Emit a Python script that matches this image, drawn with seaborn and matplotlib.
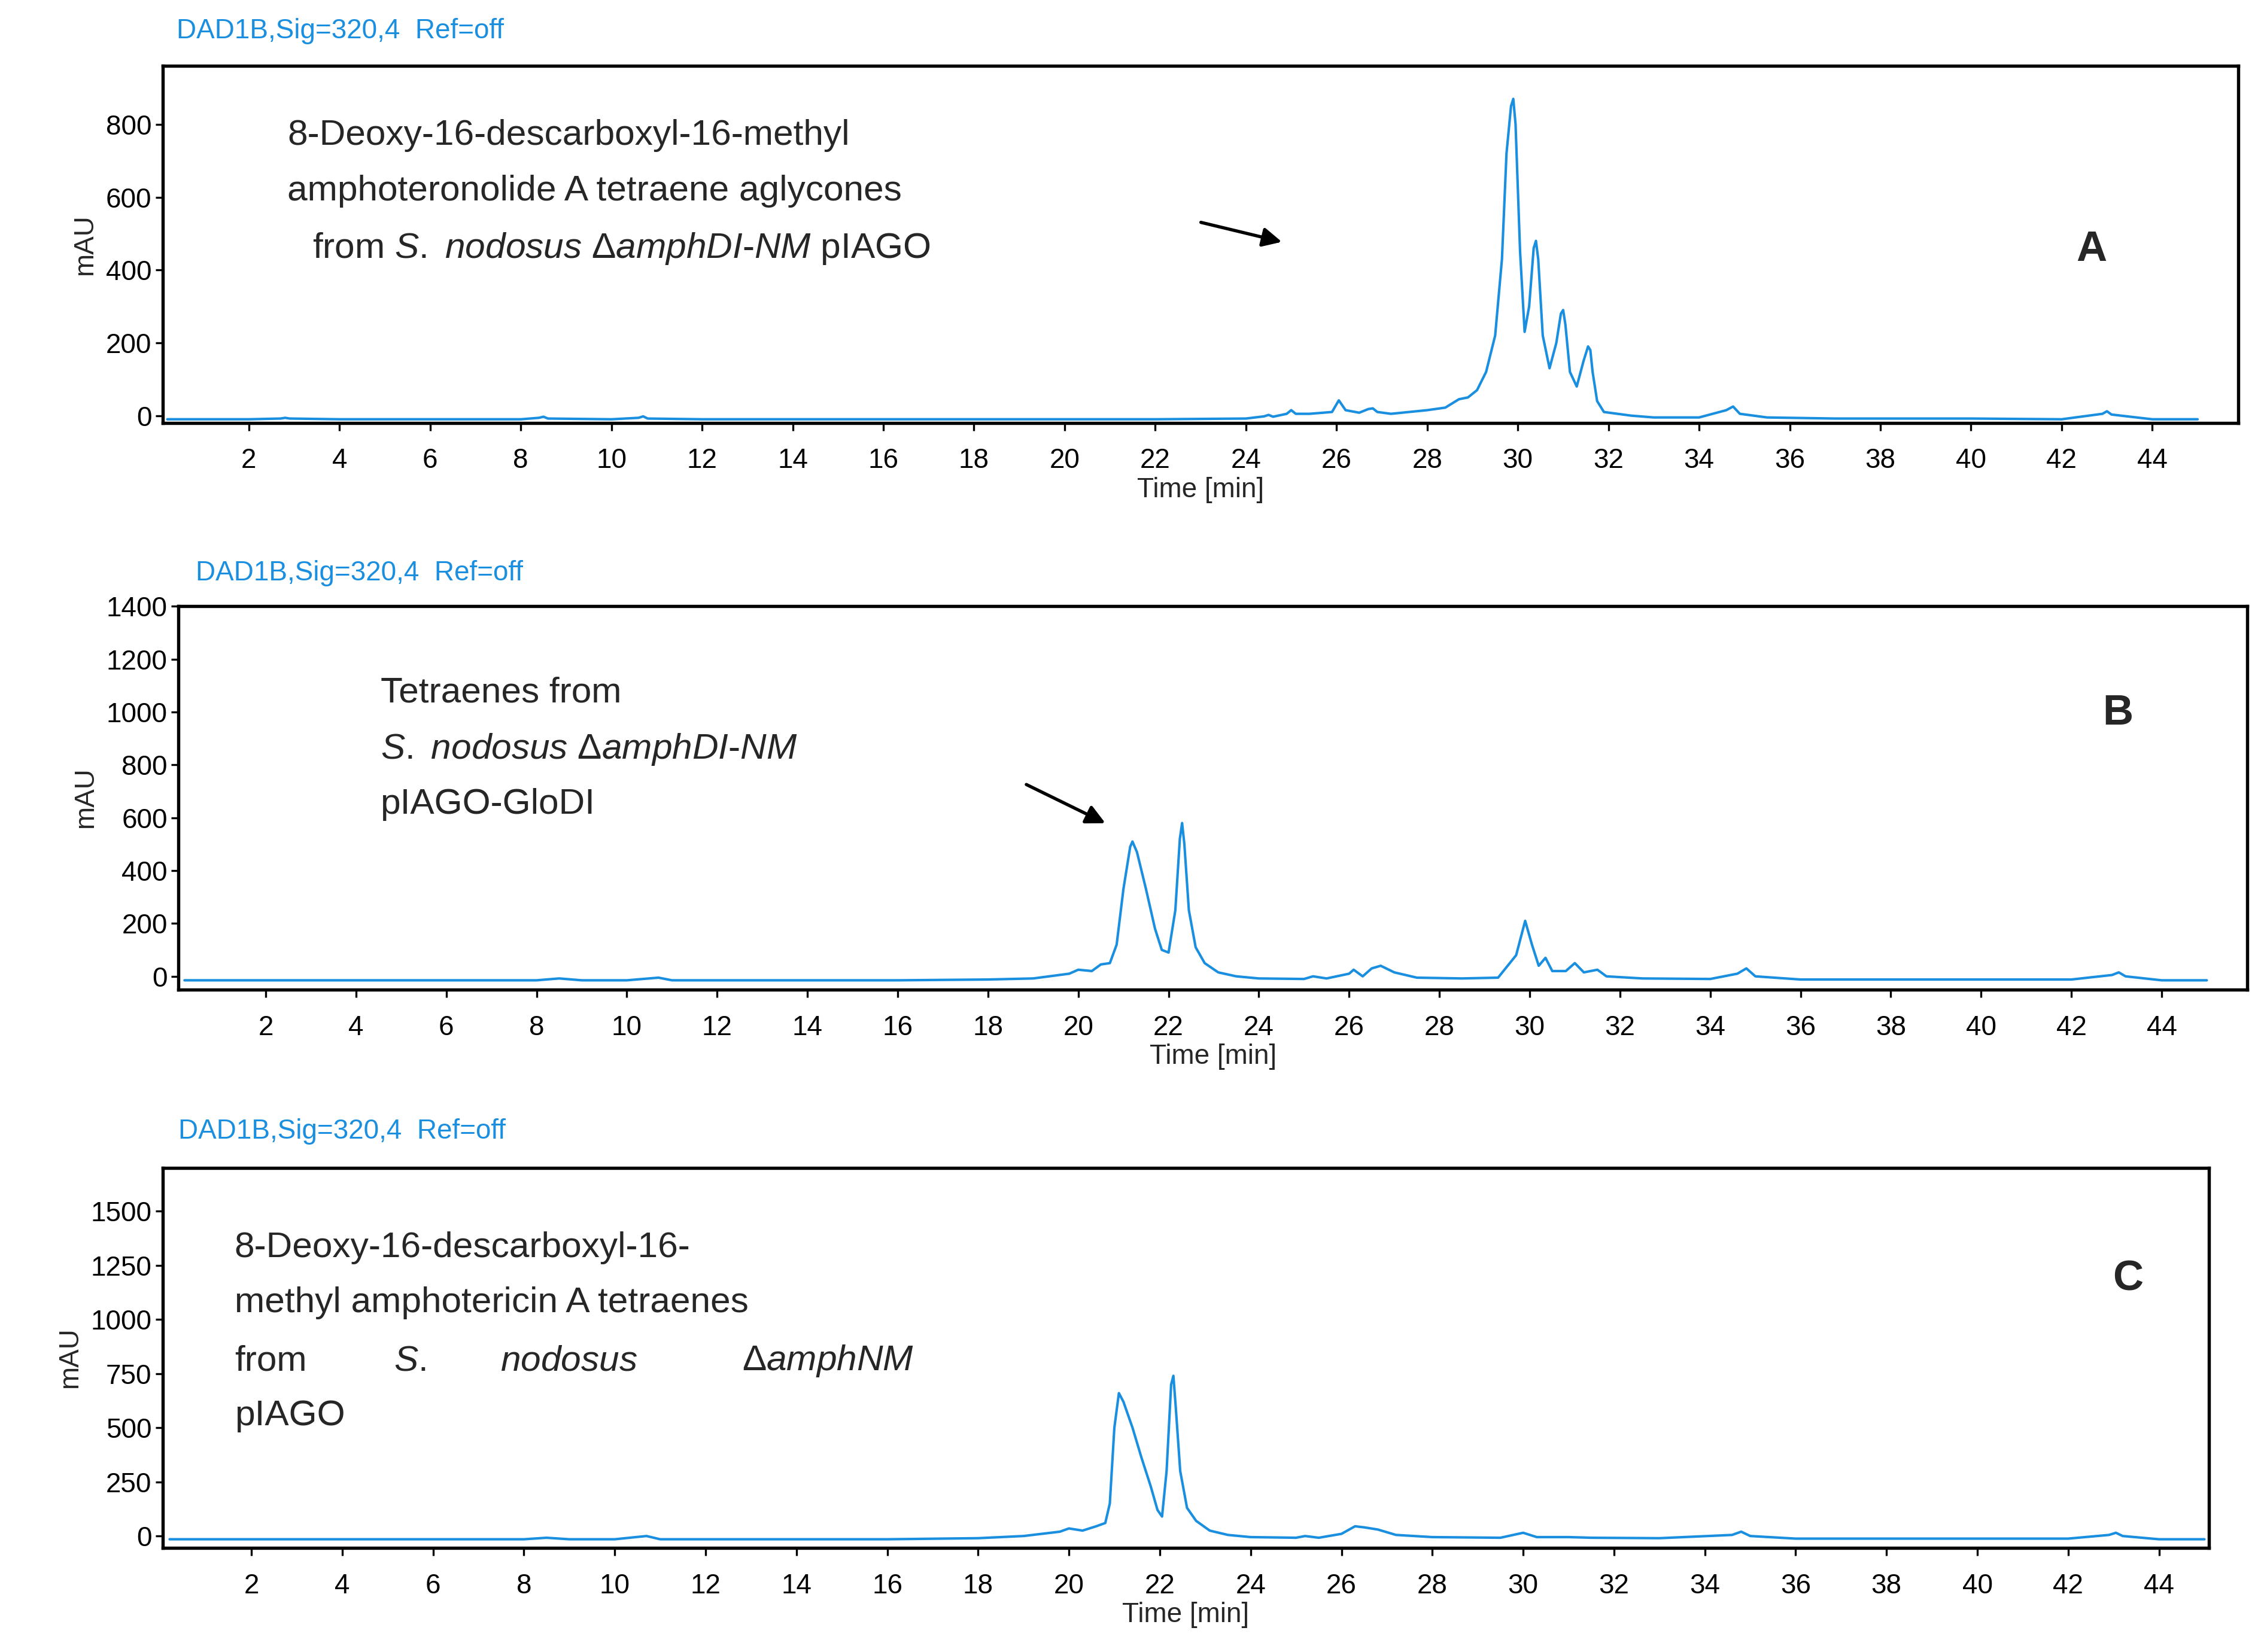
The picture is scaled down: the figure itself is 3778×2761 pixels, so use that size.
import numpy as np
import matplotlib
matplotlib.use("Agg")
import matplotlib.pyplot as plt
import seaborn as sns

# chromatogram traces: (time [min], signal [mAU])
A_POINTS = [(0.2, -10), (2, -10), (2.7, -8), (2.8, -6), (2.9, -8), (4, -10), (6, -10), (8, -10),
            (8.4, -6), (8.5, -3), (8.6, -8), (10, -10), (10.6, -6), (10.7, -2), (10.8, -8), (12, -10),
            (14, -10), (16, -10), (18, -10), (20, -10), (22, -10), (23, -9), (24, -8), (24.4, -2),
            (24.5, 2), (24.6, -3), (24.9, 5), (25.0, 15), (25.1, 5), (25.4, 5), (25.9, 10),
            (26.05, 42), (26.2, 15), (26.5, 8), (26.7, 18), (26.8, 20), (26.9, 10), (27.2, 5),
            (27.6, 10), (28.0, 15), (28.4, 22), (28.7, 45), (28.9, 50), (29.1, 70), (29.3, 120),
            (29.5, 220), (29.65, 430), (29.75, 720), (29.85, 850), (29.9, 870), (29.95, 800),
            (30.05, 450), (30.15, 230), (30.25, 300), (30.35, 460), (30.4, 480), (30.45, 430),
            (30.55, 220), (30.7, 130), (30.85, 200), (30.95, 280), (31.0, 290), (31.05, 250),
            (31.15, 120), (31.3, 80), (31.45, 150), (31.55, 190), (31.6, 180), (31.65, 120),
            (31.75, 40), (31.9, 10), (32.2, 5), (32.5, 0), (33, -5), (34, -5), (34.6, 15),
            (34.75, 25), (34.9, 5), (35.5, -5), (37, -8), (38, -8), (40, -8), (42, -10),
            (42.9, 5), (43.0, 12), (43.1, 3), (44, -10), (45, -10)]

B_POINTS = [(0.2, -15), (2, -15), (4, -15), (6, -15), (8, -15), (8.5, -8), (9, -15), (10, -15),
            (10.7, -5), (11, -15), (12, -15), (14, -15), (16, -15), (18, -12), (19, -8), (19.8, 10),
            (20.0, 25), (20.3, 20), (20.5, 45), (20.7, 50), (20.85, 120), (21.0, 330), (21.15, 490),
            (21.2, 510), (21.3, 470), (21.5, 330), (21.7, 180), (21.85, 100), (22.0, 90),
            (22.15, 250), (22.25, 520), (22.3, 580), (22.35, 500), (22.45, 250), (22.6, 110),
            (22.8, 50), (23.1, 15), (23.5, 0), (24, -8), (25, -10), (25.2, 0), (25.5, -8),
            (26.0, 10), (26.1, 25), (26.3, 0), (26.5, 30), (26.7, 40), (27.0, 15), (27.5, -5),
            (28.5, -8), (29.3, -5), (29.7, 80), (29.9, 210), (30.05, 120), (30.2, 40), (30.35, 70),
            (30.5, 20), (30.8, 20), (31.0, 50), (31.2, 15), (31.5, 25), (31.7, 0), (32.5, -8),
            (34, -10), (34.6, 10), (34.8, 30), (35.0, 0), (36, -12), (38, -12), (40, -12),
            (42, -12), (42.9, 5), (43.05, 15), (43.2, 0), (44, -15), (45, -15)]

C_POINTS = [(0.2, -15), (2, -15), (4, -15), (6, -15), (8, -15), (8.5, -8), (9, -15), (10, -15),
            (10.7, 0), (11, -15), (12, -15), (14, -15), (16, -15), (18, -10), (19, 0), (19.8, 20),
            (20.0, 35), (20.3, 25), (20.6, 45), (20.8, 60), (20.9, 150), (21.0, 500), (21.1, 660),
            (21.2, 620), (21.4, 500), (21.6, 360), (21.8, 230), (21.95, 120), (22.05, 90),
            (22.15, 300), (22.25, 700), (22.3, 740), (22.35, 600), (22.45, 300), (22.6, 130),
            (22.8, 70), (23.1, 25), (23.5, 5), (24, -5), (25, -8), (25.2, 0), (25.5, -8),
            (26.0, 10), (26.3, 45), (26.5, 40), (26.8, 30), (27.2, 5), (28, -5), (29.5, -8),
            (30.0, 15), (30.3, -5), (31, -5), (31.5, -8), (33, -10), (34.6, 5), (34.8, 20),
            (35.0, 0), (36, -12), (38, -12), (40, -12), (42, -12), (42.9, 5), (43.05, 15),
            (43.2, 0), (44, -15), (45, -15)]

X_TICKS = list(range(2, 46, 2))
A_YTICKS = [0, 200, 400, 600, 800]
B_YTICKS = [0, 200, 400, 600, 800, 1000, 1200, 1400]
C_YTICKS = [0, 250, 500, 750, 1000, 1250, 1500]
HEADER = "DAD1B,Sig=320,4  Ref=off"

BLUE = "#1b8fdf"

sns.set_theme(style="white")
plt.rcParams["font.family"] = ["Liberation Sans", "DejaVu Sans"]
plt.rcParams["mathtext.fontset"] = "custom"
plt.rcParams["mathtext.rm"] = "Liberation Sans"
plt.rcParams["mathtext.it"] = "Liberation Sans:italic"

fig = plt.figure(figsize=(3778 / 300, 2761 / 300), dpi=300)


def panel(rect, points, xlim, ylim, yticks):
    ax = fig.add_axes(rect)
    t, v = zip(*points)
    sns.lineplot(x=np.array(t), y=np.array(v), ax=ax, color=BLUE, linewidth=1.0,
                 estimator=None, sort=False)
    ax.set_xlim(*xlim)
    ax.set_ylim(*ylim)
    ax.set_xticks(X_TICKS)
    ax.set_yticks(yticks)
    for s in ax.spines.values():
        s.set_color("black")
        s.set_linewidth(1.3)
    ax.tick_params(axis="both", direction="out", length=3, width=0.8, colors="black",
                   labelsize=11, pad=1.5, bottom=True, left=True)
    ax.tick_params(axis="x", pad=7)
    ax.set_xlabel("Time [min]", fontsize=11, labelpad=1)
    ax.set_ylabel("mAU", fontsize=11, labelpad=3)
    return ax


axA = panel([0.072, 0.744, 0.918, 0.216], A_POINTS, (0.1, 45.9), (-20, 960), A_YTICKS)
axB = panel([0.079, 0.401, 0.915, 0.232], B_POINTS, (0.07, 45.9), (-50, 1400), B_YTICKS)
axC = panel([0.072, 0.063, 0.905, 0.230], C_POINTS, (0.05, 45.1), (-55, 1700), C_YTICKS)

for x, y in [(0.078, 0.981), (0.0865, 0.653), (0.079, 0.315)]:
    fig.text(x, y, HEADER, color=BLUE, fontsize=11, va="center")

fs = 14.5
# panel A
axA.text(0.06, 0.805, "8-Deoxy-16-descarboxyl-16-methyl", transform=axA.transAxes, fontsize=fs, va="center")
axA.text(0.06, 0.65, "amphoteronolide A tetraene aglycones", transform=axA.transAxes, fontsize=fs, va="center")
axA.text(0.072, 0.488, r"from $S.\ nodosus\ \Delta amphDI$-$NM$ pIAGO", transform=axA.transAxes,
         fontsize=fs, va="center")
axA.annotate("", xy=(24.9, 474), xytext=(22.9, 534),
             arrowprops=dict(arrowstyle="-|>", color="black", lw=1.3, mutation_scale=16))
axA.text(0.922, 0.484, "A", transform=axA.transAxes, fontsize=17, fontweight="bold", va="center")

# panel B
axB.text(0.0975, 0.774, "Tetraenes from", transform=axB.transAxes, fontsize=fs, va="center")
axB.text(0.0975, 0.626, r"$S.\ nodosus\ \Delta amphDI$-$NM$", transform=axB.transAxes, fontsize=fs, va="center")
axB.text(0.0975, 0.483, "pIAGO-GloDI", transform=axB.transAxes, fontsize=fs, va="center")
axB.annotate("", xy=(20.7, 571), xytext=(18.75, 734),
             arrowprops=dict(arrowstyle="-|>", color="black", lw=1.3, mutation_scale=16))
axB.text(0.93, 0.72, "B", transform=axB.transAxes, fontsize=17, fontweight="bold", va="center")

# panel C
axC.text(0.035, 0.79, "8-Deoxy-16-descarboxyl-16-", transform=axC.transAxes, fontsize=fs, va="center")
axC.text(0.035, 0.645, "methyl amphotericin A tetraenes", transform=axC.transAxes, fontsize=fs, va="center")
for x, s in [(0.035, "from"), (0.113, r"$S.$"), (0.165, r"$nodosus$"), (0.283, r"$\Delta amphNM$")]:
    axC.text(x, 0.492, s, transform=axC.transAxes, fontsize=fs, va="center")
axC.text(0.035, 0.347, "pIAGO", transform=axC.transAxes, fontsize=fs, va="center")
axC.text(0.953, 0.706, "C", transform=axC.transAxes, fontsize=17, fontweight="bold", va="center")

fig.savefig("out.png", dpi=300)
